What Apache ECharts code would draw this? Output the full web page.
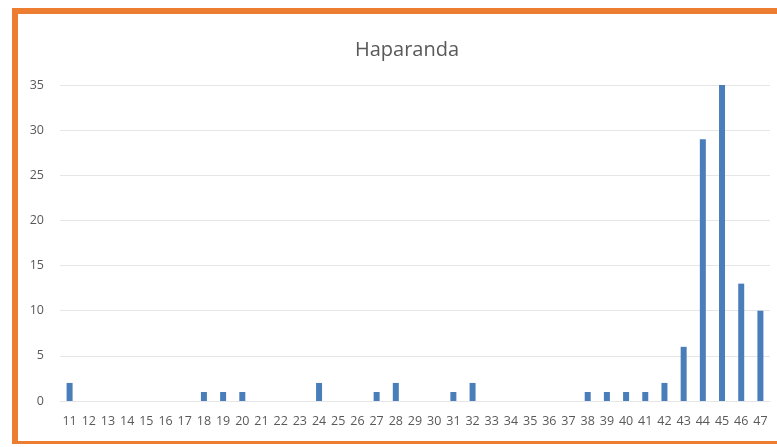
<!DOCTYPE html>
<html>
<head>
<meta charset="utf-8">
<script src="https://cdn.jsdelivr.net/npm/echarts@6/dist/echarts.min.js"></script>
<style>
  html, body { margin: 0; padding: 0; background: #fff; }
  .frame {
    position: absolute;
    left: 12px;
    top: 8px;
    width: 765px;
    height: 436px;
    border-left: 6px solid #ed7d31;
    border-top: 6px solid #ed7d31;
    border-bottom: 3px solid #ed7d31;
    box-sizing: border-box;
  }
  #chart { position: absolute; left: 0; top: 0; width: 777px; height: 447px; }
</style>
</head>
<body>
<div class="frame"></div>
<div id="chart"></div>
<script>
// data
const categories = ['11', '12', '13', '14', '15', '16', '17', '18', '19', '20', '21', '22', '23', '24',
  '25', '26', '27', '28', '29', '30', '31', '32', '33', '34', '35', '36', '37', '38', '39', '40',
  '41', '42', '43', '44', '45', '46', '47']
const counts = [2, 0, 0, 0, 0, 0, 0, 1, 1, 1, 0, 0, 0, 2,
  0, 0, 1, 2, 0, 0, 1, 2, 0, 0, 0, 0, 0, 1, 1, 1,
  1, 2, 6, 29, 35, 13, 10]
const yTicks = [0, 5, 10, 15, 20, 25, 30, 35]

const chart = echarts.init(document.getElementById('chart'))
chart.setOption({
  animation: false,
  textStyle: {
    fontFamily: 'Open Sans',
  },
  title: {
    text: 'Haparanda',
    left: 402,
    top: 35,
    textAlign: 'center',
    textStyle: {
      color: '#595959',
      fontSize: 20,
      fontWeight: 'normal',
    },
  },
  grid: {
    left: 60,
    right: 7,
    top: 85,
    bottom: 46,
  },
  xAxis: {
    type: 'category',
    data: categories,
    axisLine: { show: true, lineStyle: { color: '#e6e6e6' } },
    axisTick: { show: false },
    axisLabel: {
      color: '#595959',
      fontSize: 12.5,
      interval: 0,
      margin: 14,
    },
  },
  yAxis: {
    type: 'value',
    min: yTicks[0],
    max: yTicks[yTicks.length - 1],
    interval: 5,
    axisLine: { show: false },
    axisTick: { show: false },
    axisLabel: {
      color: '#595959',
      fontSize: 12.5,
      margin: 16,
    },
    splitLine: { lineStyle: { color: '#e6e6e6' } },
  },
  series: [
    {
      type: 'bar',
      data: counts,
      barWidth: 6,
      itemStyle: { color: '#4a7ebb' },
    },
  ],
})
</script>
</body>
</html>
